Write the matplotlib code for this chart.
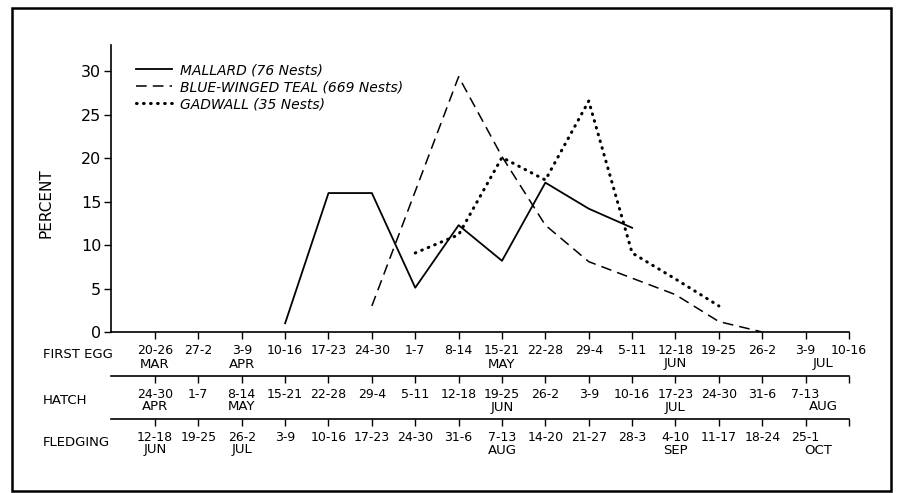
#! /usr/bin/env python3

import numpy as np
import matplotlib
matplotlib.use('Agg')
import matplotlib.pyplot as plt
from matplotlib.patches import Rectangle

# weekly periods (index 0 .. 16 along the x axis)
firstEgg = ['20-26', '27-2', '3-9', '10-16', '17-23', '24-30', '1-7', '8-14',
            '15-21', '22-28', '29-4', '5-11', '12-18', '19-25', '26-2', '3-9', '10-16']
firstEggMonths = [(0, 'MAR'), (2, 'APR'), (8, 'MAY'), (12, 'JUN'), (15.4, 'JUL')]

hatch = ['24-30', '1-7', '8-14', '15-21', '22-28', '29-4', '5-11', '12-18',
         '19-25', '26-2', '3-9', '10-16', '17-23', '24-30', '31-6', '7-13', '']
hatchMonths = [(0, 'APR'), (2, 'MAY'), (8, 'JUN'), (12, 'JUL'), (15.4, 'AUG')]

fledging = ['12-18', '19-25', '26-2', '3-9', '10-16', '17-23', '24-30', '31-6',
            '7-13', '14-20', '21-27', '28-3', '4-10', '11-17', '18-24', '25-1', '']
fledgingMonths = [(0, 'JUN'), (2, 'JUL'), (8, 'AUG'), (12, 'SEP'), (15.3, 'OCT')]

# percent of nests by week of first egg
mallardWeeks = [3, 4, 5, 6, 7, 8, 9, 10, 11]
mallard = [1.0, 16.0, 16.0, 5.1, 12.3, 8.2, 17.2, 14.2, 12.0]

tealWeeks = [5, 6, 7, 8, 9, 10, 11, 12, 13, 14]
teal = [3.0, 16.2, 29.4, 20.2, 12.3, 8.1, 6.2, 4.3, 1.2, 0.0]

gadwallWeeks = [6, 7, 8, 9, 10, 11, 12, 13]
gadwall = [9.1, 11.2, 20.1, 17.5, 26.6, 9.1, 6.1, 3.0]

W, H = 898, 493
plt.rcParams['font.family'] = 'DejaVu Sans'

fig = plt.figure(figsize=(W / 100, H / 100), dpi=100)

x0, x1 = 111 / W, 849 / W
ax = fig.add_axes([x0, 1 - 332 / H, x1 - x0, (332 - 45) / H])
xlim = (-1.014, 16)

ax.plot(mallardWeeks, mallard, color='black', lw=1.3, label='MALLARD (76 Nests)')
ax.plot(tealWeeks, teal, color='black', lw=1.1, dashes=(7, 4),
        label='BLUE-WINGED TEAL (669 Nests)')
ax.plot(gadwallWeeks, gadwall, color='black', lw=2.2, dashes=(0.2, 2.1),
        dash_capstyle='round', label='GADWALL (35 Nests)')

ax.set_xlim(*xlim)
ax.set_ylim(0, 33.05)
ax.set_yticks(np.arange(0, 31, 5))
ax.tick_params(axis='y', direction='out', length=5, width=1, labelsize=11.5, pad=2)
ax.set_xticks(range(len(firstEgg)))
ax.set_xticklabels(firstEgg)
ax.tick_params(axis='x', direction='out', length=5, width=1, labelsize=9, pad=3.5)
for s in ['top', 'right']:
    ax.spines[s].set_visible(False)
for s in ['left', 'bottom']:
    ax.spines[s].set_linewidth(1.2)
ax.set_ylabel('PERCENT', fontsize=11)
ax.yaxis.set_label_coords(-0.078, 0.45)

ax.legend(loc='upper left', bbox_to_anchor=(136 / W, 1 - 63 / H),
          bbox_transform=fig.transFigure, frameon=False, borderpad=0,
          borderaxespad=0, handlelength=2.6, handletextpad=0.6,
          labelspacing=0.22, prop=dict(style='italic', size=10))


def monthRow(a, months, yPix):
    # month names sit under the week labels, x in data units of axis a
    for xi, m in months:
        xFig = fig.transFigure.inverted().transform(a.transData.transform((xi, 0)))[0]
        fig.text(xFig, 1 - yPix / H, m, fontsize=9.5, ha='center', va='center')


monthRow(ax, firstEggMonths, 364)

for labels, months, lineY in [(hatch, hatchMonths, 376), (fledging, fledgingMonths, 419)]:
    sub = fig.add_axes([x0, 1 - lineY / H, x1 - x0, 1e-4])
    sub.set_xlim(*xlim)
    sub.set_ylim(0, 1)
    sub.set_yticks([])
    for s in ['top', 'right', 'left']:
        sub.spines[s].set_visible(False)
    sub.spines['bottom'].set_linewidth(1.2)
    sub.patch.set_visible(False)
    sub.set_xticks(range(len(labels)))
    sub.set_xticklabels(labels)
    sub.tick_params(axis='x', direction='out', length=5, width=1, labelsize=9, pad=3.5)
    monthRow(sub, months, lineY + 31)

fig.text(43 / W, 1 - 355 / H, 'FIRST EGG', fontsize=9.5, ha='left', va='center')
fig.text(43 / W, 1 - 400 / H, 'HATCH', fontsize=9.5, ha='left', va='center')
fig.text(43 / W, 1 - 442 / H, 'FLEDGING', fontsize=9.5, ha='left', va='center')

fig.patches.append(Rectangle((12 / W, 1 - 491 / H), (891 - 12) / W, (491 - 8) / H,
                             transform=fig.transFigure, fill=False, lw=1.8,
                             edgecolor='black'))

fig.savefig('out.png', dpi=100)
